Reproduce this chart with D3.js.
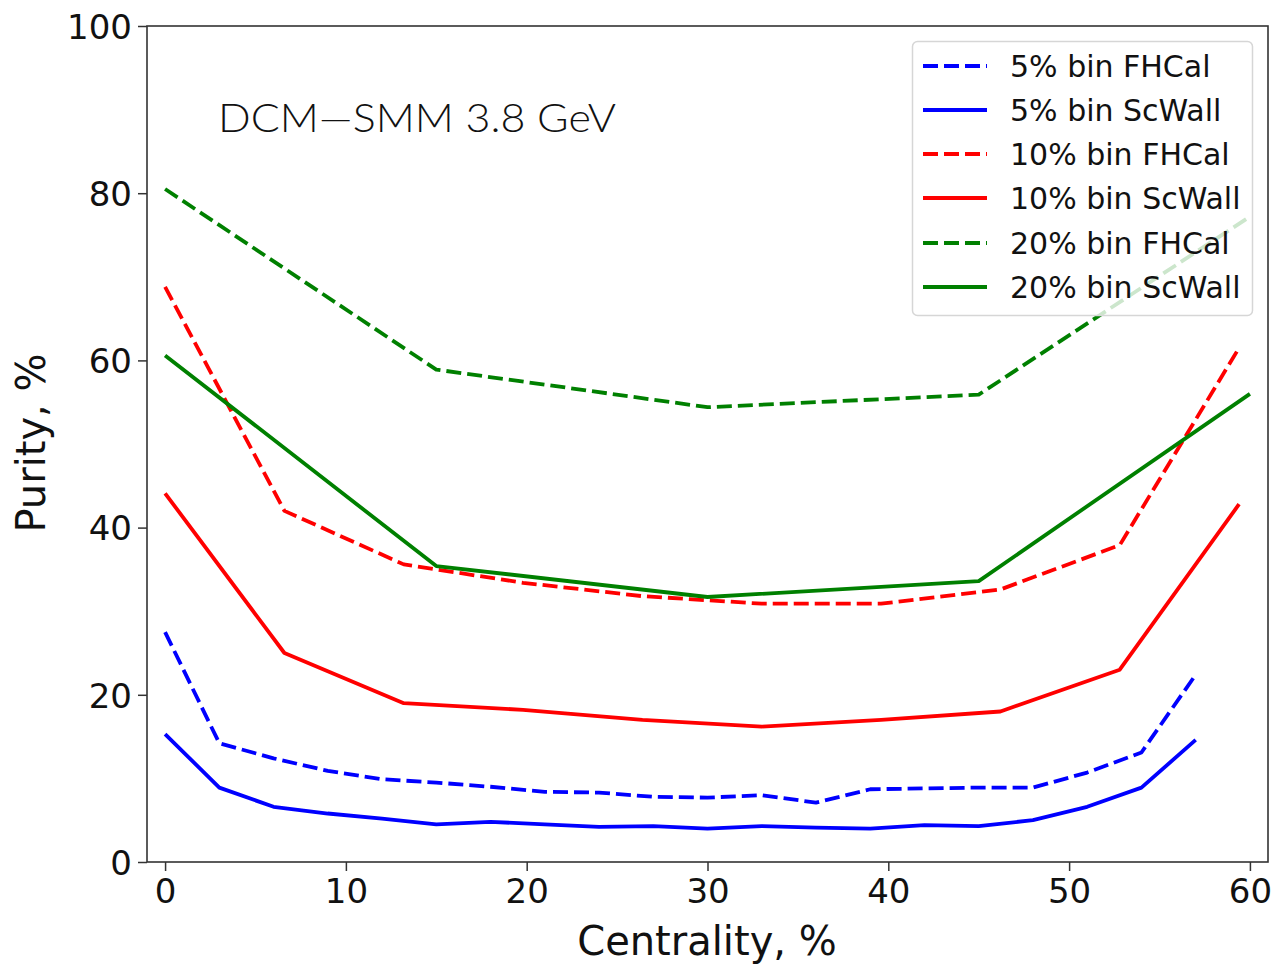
<!DOCTYPE html>
<html><head><meta charset="utf-8">
<script src="https://cdn.jsdelivr.net/npm/d3@7"></script>
<style>body{margin:0;background:#fff}svg{display:block}</style>
</head><body>
<script>
const xTicks = [0,10,20,30,40,50,60];
const yTicks = [0,20,40,60,80,100];

const cent5 = [0,3,6,9,12,15,18,21,24,27,30,33,36,39,42,45,48,51,54,57];
const fhcal5 = [27.5,14.2,12.4,10.9,9.9,9.5,9.0,8.4,8.3,7.8,7.7,8.0,7.1,8.7,8.8,8.9,8.9,10.7,13.1,22.4];
const scwall5 = [15.3,8.9,6.6,5.8,5.2,4.5,4.8,4.5,4.2,4.3,4.0,4.3,4.1,4.0,4.4,4.3,5.0,6.6,8.9,14.6];

const cent10 = [0,6.6,13.2,19.8,26.4,33.0,39.6,46.2,52.8,59.4];
const fhcal10 = [68.8,42.0,35.6,33.4,31.8,30.9,30.9,32.6,37.9,61.5];
const scwall10 = [44.1,25.0,19.0,18.2,17.0,16.2,17.0,18.0,23.0,42.8];

const cent20 = [0,15,30,45,60];
const fhcal20 = [80.5,58.9,54.4,55.9,77.2];
const scwall20 = [60.6,35.4,31.7,33.6,56.0];

const seriesNames = ["5% bin FHCal","5% bin ScWall","10% bin FHCal","10% bin ScWall","20% bin FHCal","20% bin ScWall"];
const seriesColors = ["#0000ff","#0000ff","#ff0000","#ff0000","#008000","#008000"];
const seriesDashed = [true,false,true,false,true,false];
const seriesX = [cent5,cent5,cent10,cent10,cent20,cent20];
const seriesY = [fhcal5,scwall5,fhcal10,scwall10,fhcal20,scwall20];

const W = 1281, H = 966;
const L = 147, T = 26, R = 1268, B = 862;
const svg = d3.select("body").append("svg").attr("width", W).attr("height", H);

const x = d3.scaleLinear().domain([-1, 61]).range([L, R]);
const y = d3.scaleLinear().domain([0, 100]).range([B, T]);

const tickFont = "DejaVu Sans";
const xAxis = svg.append("g").attr("transform", `translate(0,${B})`)
  .call(d3.axisBottom(x).tickValues(xTicks).tickSize(9).tickPadding(8).tickFormat(d3.format("d")));
const yAxis = svg.append("g").attr("transform", `translate(${L},0)`)
  .call(d3.axisLeft(y).tickValues(yTicks).tickSize(9).tickPadding(6).tickFormat(d3.format("d")));
[xAxis, yAxis].forEach(a => {
  a.select(".domain").remove();
  a.selectAll(".tick line").attr("stroke", "#333").attr("stroke-width", 1.5);
  a.selectAll(".tick text").attr("font-family", tickFont).attr("font-size", 34).attr("fill", "#111");
});
xAxis.selectAll(".tick text").attr("dy", "0.72em");
yAxis.selectAll(".tick text").attr("dy", "0.36em");

const line = d3.line().x(d => x(d[0])).y(d => y(d[1]));
const plot = svg.append("g");
seriesNames.forEach((n, i) => {
  const pts = seriesX[i].map((v, j) => [v, seriesY[i][j]]);
  plot.append("path").datum(pts).attr("d", line)
    .attr("fill", "none").attr("stroke", seriesColors[i]).attr("stroke-width", 3.8)
    .attr("stroke-dasharray", seriesDashed[i] ? "15,6" : null)
    .attr("stroke-linejoin", "round");
});

svg.append("rect").attr("x", L).attr("y", T).attr("width", R - L).attr("height", B - T)
  .attr("fill", "none").attr("stroke", "#333").attr("stroke-width", 1.6);

svg.append("text").attr("x", 218).attr("y", 132).attr("font-family", "Lato, 'Open Sans'")
  .attr("font-weight", 300)
  .attr("font-size", 40).attr("fill", "#111").attr("textLength", 398).attr("lengthAdjust", "spacingAndGlyphs")
  .text("DCM\u2014SMM 3.8 GeV");

svg.append("text").attr("x", 707).attr("y", 955).attr("text-anchor", "middle")
  .attr("font-family", tickFont).attr("font-size", 40).attr("fill", "#111").text("Centrality, %");
svg.append("text").attr("transform", "translate(45,443) rotate(-90)").attr("text-anchor", "middle")
  .attr("font-family", tickFont).attr("font-size", 40).attr("fill", "#111").text("Purity, %");

const lg = svg.append("g");
lg.append("rect").attr("x", 912.5).attr("y", 41.5).attr("width", 340).attr("height", 274).attr("rx", 5)
  .attr("fill", "#fff").attr("fill-opacity", 0.8).attr("stroke", "#d6d6d6").attr("stroke-width", 1.5);
const rowY = [66, 110, 154, 198, 243, 287];
seriesNames.forEach((n, i) => {
  lg.append("line").attr("x1", 923).attr("x2", 987).attr("y1", rowY[i]).attr("y2", rowY[i])
    .attr("stroke", seriesColors[i]).attr("stroke-width", 3.8)
    .attr("stroke-dasharray", seriesDashed[i] ? "15,6" : null);
  lg.append("text").attr("x", 1010).attr("y", rowY[i]).attr("dy", "0.36em")
    .attr("font-family", tickFont).attr("font-size", 30).attr("fill", "#111").text(n);
});
</script>
</body></html>
